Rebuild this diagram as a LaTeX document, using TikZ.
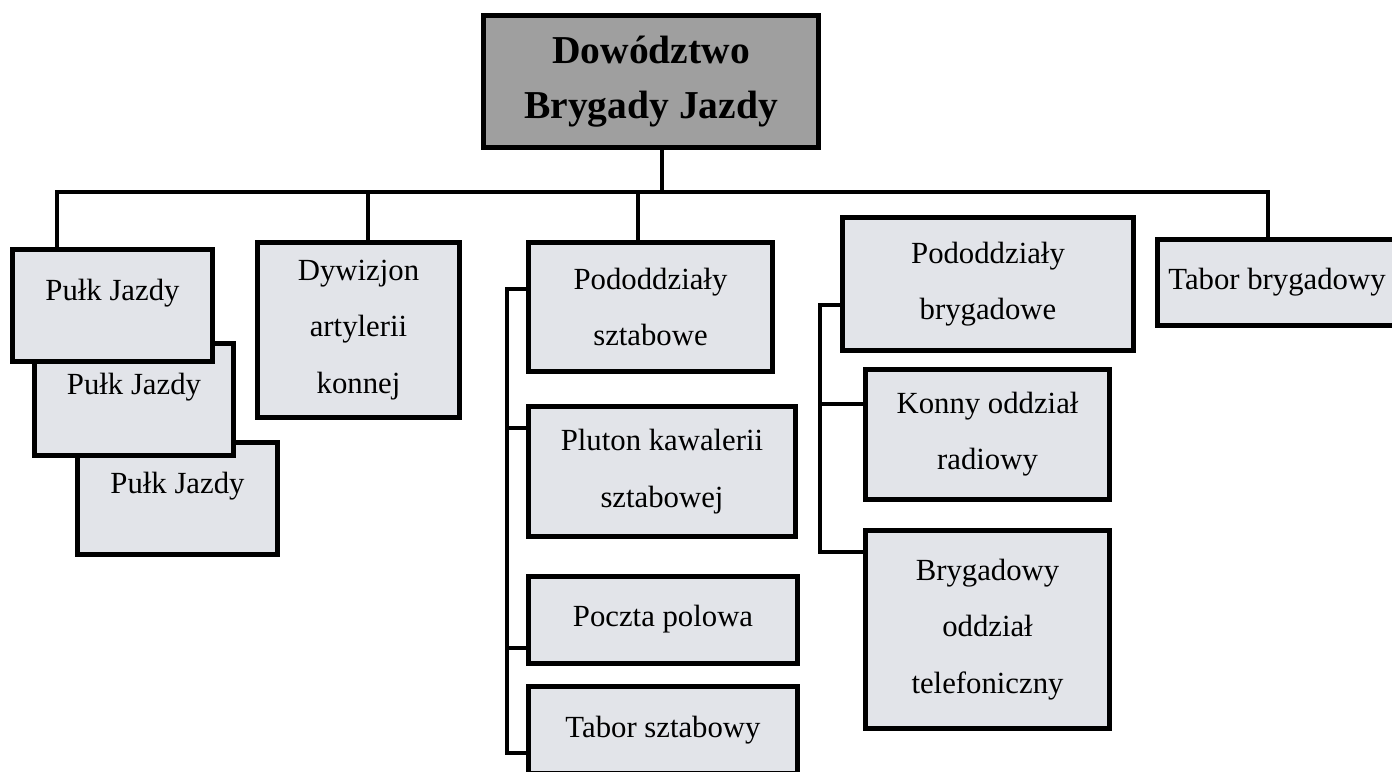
\documentclass[tikz,border=0pt]{standalone}
\usepackage{fontspec}
\setmainfont{Liberation Serif}
\definecolor{unitgray}{HTML}{E2E4E9}
\definecolor{hqgray}{HTML}{9F9F9F}

\begin{document}
\begin{tikzpicture}[x=0.02cm, y=-0.02cm,
        unit/.style={draw, fill=unitgray, line width=0.1cm, inner sep=0pt, align=center,
            font=\fontsize{17.5}{32}\selectfont},
        hq/.style={unit, fill=hqgray, font=\bfseries\fontsize{22.5}{31}\selectfont},
        link/.style={line width=0.08cm}]
        \useasboundingbox (0,0) rectangle (1392,771);

        % Brigade command
        \node[hq, minimum width=6.7cm, minimum height=2.66cm] (hq) at (651,81.5) {Dowództwo\\Brygady Jazdy};

        % Cavalry regiments, back to front
        \foreach \i/\x/\y in {3/177.5/498.5, 2/134/399.5, 1/112.5/305.5} {
            \node[unit, minimum width=4cm, minimum height=2.24cm, text depth=0.63cm] (pulk\i) at (\x,\y) {Pułk Jazdy};
        }

        % Horse artillery squadron
        \node[unit, minimum width=4.06cm, minimum height=3.52cm] (dyw) at (358.5,330) {Dywizjon\\artylerii\\konnej};

        % Staff subunits
        \node[unit, minimum width=4.9cm, minimum height=2.6cm] (szt) at (650.5,307) {Pododdziały\\sztabowe};
        \node[unit, minimum width=5.36cm, minimum height=2.62cm] (plu) at (662,471.5) {Pluton kawalerii\\sztabowej};
        \node[unit, minimum width=5.4cm, minimum height=1.74cm] (poc) at (663,619.5) {Poczta polowa};
        \node[unit, minimum width=5.4cm, minimum height=1.74cm] (tsz) at (663,730) {Tabor sztabowy};

        % Brigade subunits
        \node[unit, minimum width=5.84cm, minimum height=2.68cm] (bry) at (988,284) {Pododdziały\\brygadowe};
        \node[unit, minimum width=4.9cm, minimum height=2.62cm] (kon) at (987.5,434.5) {Konny oddział\\radiowy};
        \node[unit, minimum width=4.9cm, minimum height=3.98cm] (tel) at (987.5,629.5) {Brygadowy\\oddział\\telefoniczny};

        % Brigade train
        \node[unit, minimum width=4.8cm, minimum height=1.74cm] (tab) at (1277,282.5) {Tabor brygadowy};

        % Main bus
        \foreach \n/\x in {d1/57, d2/368, d3/638, d4/662, d5/1268}
            \coordinate (\n) at (\x,192);
        \draw[link] (d1 |- pulk1.north) -- (d1) -- (d5) -- (d5 |- tab.north);
        \draw[link] (hq.south -| d4) -- (d4);
        \foreach \n/\c in {d2/dyw, d3/szt}
            \draw[link] (\n) -- (\n |- \c.north);

        % Staff bracket
        \foreach \n/\y in {s1/289, s2/428, s3/648, s4/753}
            \coordinate (\n) at (507,\y);
        \draw[link] (szt.west |- s1) -- (s1) -- (s4) -- (tsz.west |- s4);
        \draw[link] (s2) -- (plu.west |- s2);
        \draw[link] (s3) -- (poc.west |- s3);

        % Brigade bracket
        \foreach \n/\y in {b1/305, b2/404, b3/552}
            \coordinate (\n) at (820,\y);
        \draw[link] (bry.west |- b1) -- (b1) -- (b3) -- (tel.west |- b3);
        \draw[link] (b2) -- (kon.west |- b2);
    \end{tikzpicture}
\end{document}
